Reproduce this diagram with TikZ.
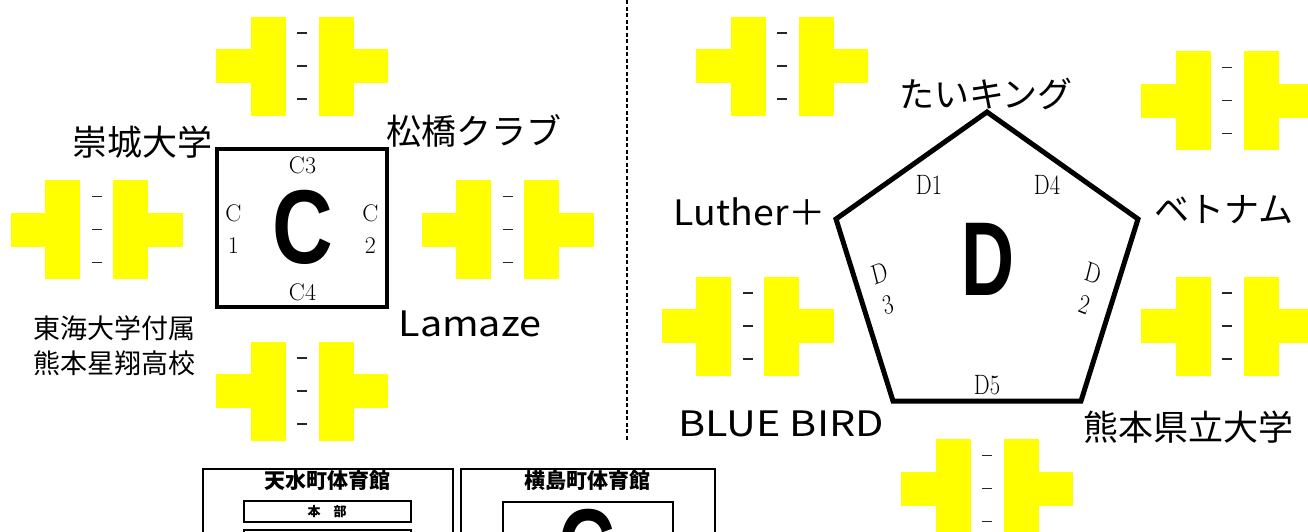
\documentclass[tikz,border=0pt]{standalone}
\usepackage{fontspec}
\newfontfamily\jp{Noto Sans CJK JP}
\newfontfamily\bigsans{Liberation Sans}
\definecolor{courtyellow}{HTML}{FFFF00}
\begin{document}
\begin{tikzpicture}[x=1pt,y=-1pt,
  court/.pic={
    \fill[courtyellow] (-86,-17) rectangle (-51.5,17);
    \fill[courtyellow] (-51.5,-49.5) rectangle (-16.5,49.5);
    \fill[courtyellow] (16.5,-49.5) rectangle (51.5,49.5);
    \fill[courtyellow] (51.5,-17) rectangle (86,17);
    \foreach \d in {-33,0,33} \draw[line width=1.4, black!85] (-5,\d) -- (5,\d);
  },
  team/.style={font={\jp\fontsize{35}{40}\selectfont}, inner sep=0pt},
  teamsmall/.style={font={\jp\fontsize{27}{35}\selectfont}, inner sep=0pt, align=left},
  clabel/.style={font={\fontsize{24}{32}\selectfont}, inner sep=0pt, align=center},
  dlabel/.style={font={\fontsize{28}{32}\selectfont}, inner sep=0pt, align=center, xscale=0.8},
  bigletter/.style={font={\bigsans\bfseries\fontsize{105}{110}\selectfont}, inner sep=0pt, text depth=0pt},
  gymtitle/.style={font={\jp\bfseries\fontsize{21}{24}\selectfont}, inner sep=0pt},
]
\useasboundingbox (0,0) rectangle (1308,531);
\clip (0,0) rectangle (1308,531);

% ---- courts (yellow markers) ----
\pic at (302,66) {court};
\pic at (96.5,229.5) {court};
\pic at (507.5,229.5) {court};
\pic at (302,391) {court};
\pic at (782,66) {court};
\pic at (1227,100.5) {court};
\pic at (747.5,326) {court};
\pic at (1227,326) {court};
\pic at (987,488.5) {court};

% ---- block C ----
\coordinate (c1) at (217,149);
\coordinate (c2) at (387,307);
\draw[line width=4] (c1) rectangle (c2);
\node[bigletter, xscale=0.8] (bigC) at (303,227) {C};
\node[clabel] (C3) at (302.5,165) {C3};
\node[clabel] (C4) at (302.5,292) {C4};
\node[clabel] (C1) at (233.5,229) {C\\1};
\node[clabel] (C2) at (370.5,229) {C\\2};

\node[team] (sojo) at (142,142) {崇城大学};
\node[team] (matsu) at (474,131) {松橋クラブ};
\node[teamsmall] (tokai) at (114,346) {東海大学付属\\熊本星翔高校};
\node[team, xscale=1.13] (lamaze) at (470,324) {Lamaze};

% ---- separator ----
\coordinate (vt) at (627,0);
\coordinate (vb) at (627,440);
\draw[line width=1.8, dash pattern=on 4pt off 2.5pt] (vt) -- (vb);

% ---- block D ----
\coordinate (p1) at (987,112);
\coordinate (p2) at (1138,219);
\coordinate (p3) at (1081,401);
\coordinate (p4) at (893,401);
\coordinate (p5) at (836,219);
\draw[line width=5, line join=miter] (p1) -- (p2) -- (p3) -- (p4) -- (p5) -- cycle;
\node[bigletter, xscale=0.7] (bigD) at (988,259) {D};
\node[dlabel] (D1) at (929,185) {D1};
\node[dlabel] (D4) at (1047,185) {D4};
\node[dlabel] (D5) at (987,385) {D5};
\node[dlabel, rotate=17.5] (D3) at (884,289) {D\\3};
\node[dlabel, rotate=-17.5] (D2) at (1089,289) {D\\2};

\node[team] (taiking) at (986,94) {たいキング};
\node[team, xscale=1.07] (luther) at (750,212) {Luther＋};
\node[team] (betonamu) at (1224,210) {ベトナム};
\node[team, xscale=1.18] (bluebird) at (781,424) {BLUE BIRD};
\node[team] (kenritsu) at (1188,427) {熊本県立大学};

% ---- gym boxes ----
\coordinate (g1a) at (203,469);
\coordinate (g1b) at (453,560);
\coordinate (g2a) at (461,469);
\coordinate (g2b) at (715,560);
\draw[line width=1.2] (g1a) rectangle (g1b);
\draw[line width=1.2] (g2a) rectangle (g2b);
\node[gymtitle] (amizu) at (327,481) {天水町体育館};
\node[gymtitle] (yokoshima) at (587,481) {横島町体育館};
\coordinate (hq1) at (244,501);
\coordinate (hq2) at (411,522);
\draw[line width=2] (hq1) rectangle (hq2);
\node[font={\jp\bfseries\fontsize{13}{15}\selectfont}, inner sep=0pt] (honbu) at (327,511.5) {本\quad 部};
\coordinate (nb1) at (244,530);
\coordinate (nb2) at (411,560);
\draw[line width=2] (nb1) rectangle (nb2);
\coordinate (ib1) at (503,502);
\coordinate (ib2) at (673,560);
\draw[line width=2] (ib1) rectangle (ib2);
\node[bigletter, xscale=0.75, anchor=north] (gymC) at (587,509) {C};
\end{tikzpicture}
\end{document}
